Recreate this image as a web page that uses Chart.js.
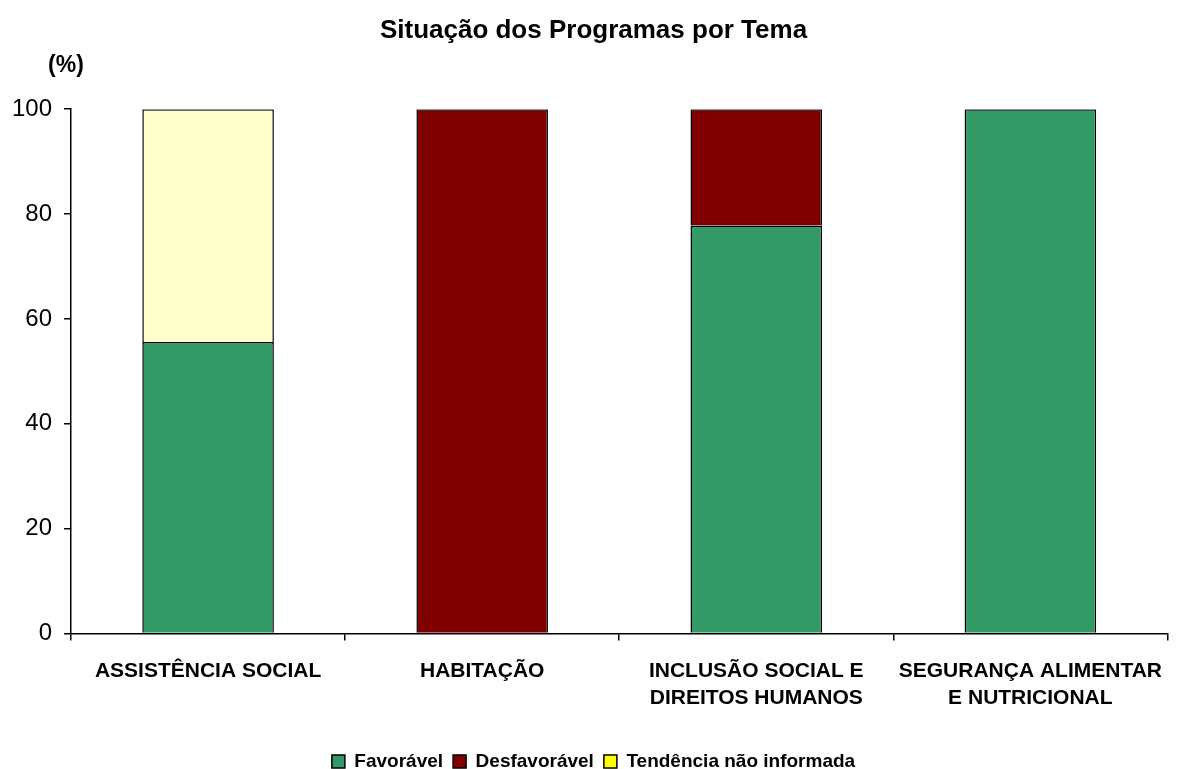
<!DOCTYPE html>
<html>
<head>
<meta charset="utf-8">
<script src="https://cdn.jsdelivr.net/npm/chart.js@4"></script>
<style>
  html, body { margin: 0; padding: 0; background: #ffffff; }
  #wrap { width: 1179px; height: 769px; position: relative; }
</style>
</head>
<body>
<div id="wrap"><canvas id="chart"></canvas></div>
<script>
const temas = [
    'ASSISTÊNCIA SOCIAL',
    'HABITAÇÃO',
    ['INCLUSÃO SOCIAL E', 'DIREITOS HUMANOS'],
    ['SEGURANÇA ALIMENTAR', 'E NUTRICIONAL']
];
const favoravel = [55.6, null, 77.8, 100];
const desfavoravel = [null, 100, 22.2, null];
const naoInformada = [44.4, null, null, null];
const yTicks = [0, 20, 40, 60, 80, 100];

const FONT = 'Arial, "Liberation Sans", sans-serif';

// "(%)" label drawn above the y axis
const unitLabel = {
    id: 'unitLabel',
    afterDraw(chart) {
        const ctx = chart.ctx;
        ctx.save();
        ctx.font = 'bold 23px ' + FONT;
        ctx.fillStyle = '#000000';
        ctx.textAlign = 'center';
        ctx.textBaseline = 'middle';
        ctx.fillText('(%)', 66, 66);
        ctx.restore();
    }
};

new Chart(document.getElementById('chart'), {
    type: 'bar',
    data: {
        labels: temas,
        datasets: [
            {
                label: 'Favorável',
                data: favoravel,
                backgroundColor: '#339966',
                borderColor: '#000000',
                borderWidth: 1.5,
            },
            {
                label: 'Desfavorável',
                data: desfavoravel,
                backgroundColor: '#800000',
                borderColor: '#000000',
                borderWidth: 1.5,
            },
            {
                label: 'Tendência não informada',
                data: naoInformada,
                backgroundColor: '#FFFFCC',
                borderColor: '#000000',
                borderWidth: 1.5,
            },
        ]
    },
    options: {
        responsive: true,
        maintainAspectRatio: false,
        animation: false,
        barPercentage: 0.48,
        categoryPercentage: 1,
        layout: { padding: { top: 0, right: -8, left: 0, bottom: -12 } },
        plugins: {
            title: {
                display: true,
                text: 'Situação dos Programas por Tema',
                color: '#000000',
                font: { family: FONT, size: 26, weight: 'bold' },
                padding: { top: 15, bottom: 63 }
            },
            legend: {
                position: 'bottom',
                labels: {
                    color: '#000000',
                    font: { family: FONT, size: 19, weight: 'bold' },
                    boxWidth: 13,
                    boxHeight: 13,
                    padding: 10,
                    generateLabels(chart) {
                        const items = Chart.defaults.plugins.legend.labels.generateLabels(chart);
                        items.forEach(it => {
                            if (it.datasetIndex === 2) it.fillStyle = '#FFFF00';
                            it.lineWidth = 1.5;
                        });
                        return items;
                    }
                }
            },
            tooltip: { enabled: false }
        },
        scales: {
            x: {
                stacked: true,
                border: { color: '#000000', width: 1.5 },
                grid: {
                    display: true,
                    drawOnChartArea: false,
                    color: '#000000',
                    lineWidth: 1.5,
                    tickLength: 7
                },
                ticks: {
                    color: '#000000',
                    font: { family: FONT, size: 21, weight: 'bold', lineHeight: 1.3 },
                    padding: 17,
                    maxRotation: 0,
                    autoSkip: false
                },
                afterFit(scale) {
                    scale.height += 13;
                }
            },
            y: {
                stacked: true,
                min: 0,
                max: 100,
                afterBuildTicks(scale) {
                    scale.ticks = yTicks.map(v => ({ value: v }));
                },
                border: { color: '#000000', width: 1.5 },
                grid: {
                    display: true,
                    drawOnChartArea: false,
                    color: '#000000',
                    lineWidth: 1.5,
                    tickLength: 7
                },
                ticks: {
                    color: '#000000',
                    font: { family: FONT, size: 24 },
                    padding: 12
                }
            }
        }
    },
    plugins: [unitLabel]
});
</script>
</body>
</html>
